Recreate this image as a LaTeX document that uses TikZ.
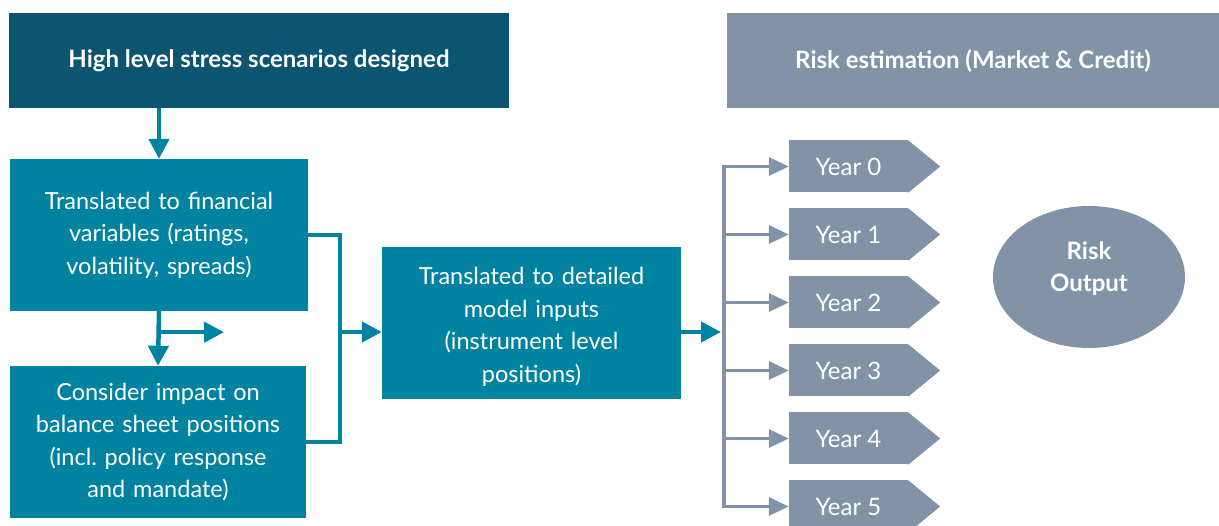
\documentclass[tikz,border=0pt]{standalone}
\usepackage{fontspec}
\setmainfont{Lato}
\frenchspacing
\usetikzlibrary{arrows.meta,calc,shapes.geometric}
\definecolor{darkteal}{HTML}{0C5571}
\definecolor{teal}{HTML}{0083A1}
\definecolor{slate}{HTML}{8293A8}
\tikzset{
  box/.style={fill=teal, text=white, inner sep=0pt, align=center, font=\fontsize{23.5}{32.5}\selectfont},
  hdr/.style={inner sep=0pt, text=white, align=center, font=\fontsize{24}{28}\selectfont\bfseries, minimum height=95pt},
  yearbox/.style={fill=slate, text=white, inner sep=0pt, minimum width=119pt, minimum height=52pt, font=\fontsize{24}{28}\selectfont},
  tline/.style={draw=teal, line width=4.5pt},
  tarrow/.style={tline, -{Triangle[length=20pt,width=20pt]}},
  gline/.style={draw=slate, line width=3.5pt},
  garrow/.style={gline, -{Triangle[length=20pt,width=18pt]}},
}
\begin{document}
\begin{tikzpicture}[x=1pt,y=-1pt]
\useasboundingbox (0,0) rectangle (1219,526);
\node[hdr, fill=darkteal, minimum width=500pt] (top) at (259,60.5) {High level stress scenarios designed};
\node[hdr, fill=slate, minimum width=492pt] (risk) at (973,60.5) {Risk estimation (Market \& Credit)};
\node[box, minimum width=298pt, minimum height=152pt, text width=294pt] (boxA) at (159,235) {Translated to financial\\variables (ratings,\\volatility, spreads)};
\node[box, minimum width=296pt, minimum height=152pt, text width=294pt] (boxB) at (158,442) {Consider impact on\\balance sheet positions\\(incl. policy response\\and mandate)};
\node[box, minimum width=299pt, minimum height=152pt, text width=294pt] (boxC) at (531.5,323) {\rule{0pt}{25pt}Translated to detailed\\model inputs\\(instrument level\\positions)};
\foreach \i in {0,...,5} {
  \node[yearbox] (y\i) at (848.5,{166.5+68*\i}) {Year \i};
  \fill[slate] (y\i.north east) -- ($(y\i.east)+(32,0)$) -- (y\i.south east) -- cycle;
}
\node[ellipse, fill=slate, minimum width=192pt, minimum height=142pt, inner sep=0pt] (out) at (1089,277) {};
\node[text=white, align=center, inner sep=0pt, font=\fontsize{24}{32}\selectfont\bfseries] (outtxt) at ($(out.center)+(0,-8)$) {Risk\\Output};
% teal connectors
\draw[tarrow] (top.south -| boxA.north) -- (boxA.north);
\draw[tarrow] (boxA.south) -- (boxB.north);
\coordinate (br0) at ($(boxA.south)+(0,21)$);
\coordinate (brend) at ($(br0)+(65,0)$);
\draw[tarrow] (br0) -- (brend);
\coordinate (brk) at (340,332);
\draw[tline] (boxA.east) -| (brk) |- (boxB.east);
\draw[tarrow] (brk) -- (brk -| boxC.west);
\coordinate (cout) at (721,332);
\draw[tarrow] (boxC.east |- cout) -- (cout);
% gray connectors
\coordinate (gx) at (724,0);
\draw[gline] (gx |- y0.west) -- (gx |- y5.west);
\foreach \i in {0,...,5} {
  \draw[garrow] ($(gx |- y\i.west)+(-1.75,0)$) -- (y\i.west);
}
\end{tikzpicture}
\end{document}
